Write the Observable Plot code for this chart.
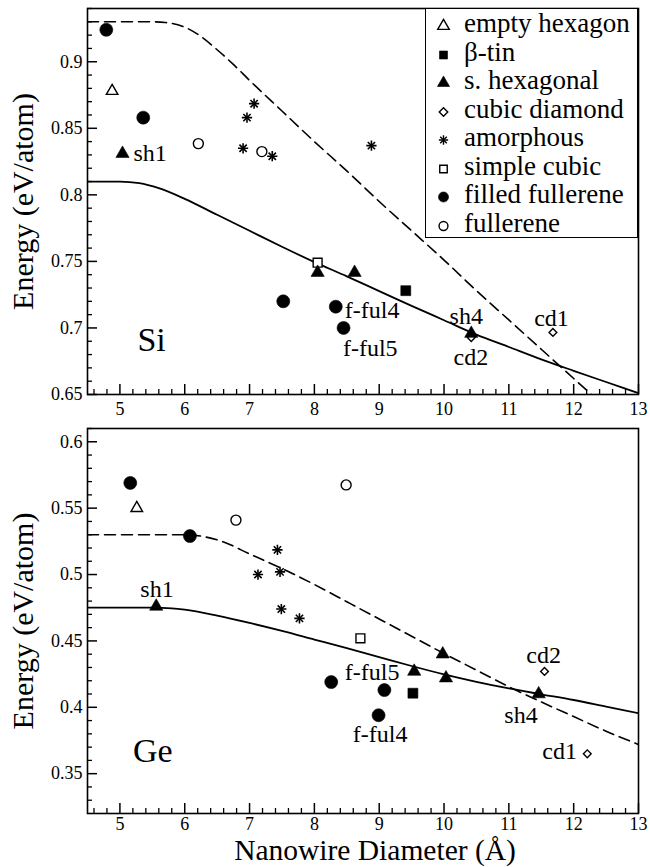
<!DOCTYPE html>
<html>
<head>
<meta charset="utf-8">
<script src="https://cdn.jsdelivr.net/npm/d3@7"></script>
<script src="https://cdn.jsdelivr.net/npm/@observablehq/plot@0.6"></script>
<style>
  body { margin: 0; background: #fff; }
  #wrap { position: relative; width: 650px; height: 867px; }
  #wrap, #wrap *, #wrap svg text, #wrap span { font-family: "Liberation Serif", serif !important; }
  #wrap svg.plot { display: block; }
  .legend { position: absolute; left: 425px; top: 8px; width: 213px; height: 230px; box-sizing: border-box;
            border: 1.5px solid #000; background: #fff; }
  .legend .row { height: 28.5px; display: flex; align-items: flex-start; }
  .legend .row svg { flex: none; }
  .legend .row span { font-size: 27px; line-height: 28px; color: #000; white-space: nowrap; }
</style>
</head>
<body>
<div id="wrap" style="font-family:'Liberation Serif', serif"></div>
<script>
// ---------------- data ----------------
const xTicks = [5, 6, 7, 8, 9, 10, 11, 12, 13];
const siYTicks = [0.65, 0.7, 0.75, 0.8, 0.85, 0.9];
const geYTicks = [0.35, 0.4, 0.45, 0.5, 0.55, 0.6];
const xTitle = "Nanowire Diameter (Å)";
const yTitle = "Energy (eV/atom)";

const structures = ["empty hexagon", "β-tin", "s. hexagonal", "cubic diamond",
                    "amorphous", "simple cubic", "filled fullerene", "fullerene"];

// Si points
const siStructure = ["filled fullerene", "empty hexagon", "filled fullerene", "s. hexagonal", "fullerene",
  "amorphous", "amorphous", "amorphous", "fullerene", "amorphous", "amorphous",
  "simple cubic", "s. hexagonal", "filled fullerene", "s. hexagonal", "β-tin",
  "filled fullerene", "filled fullerene", "s. hexagonal", "cubic diamond", "cubic diamond"];
const siDiameter = [4.79, 4.88, 5.36, 5.04, 6.21,
  7.07, 6.96, 6.90, 7.19, 7.35, 8.88,
  8.05, 8.05, 7.52, 8.62, 9.41,
  8.33, 8.45, 10.42, 10.42, 11.68];
const siEnergy = [0.924, 0.878, 0.858, 0.831, 0.8385,
  0.8685, 0.858, 0.835, 0.8325, 0.829, 0.837,
  0.749, 0.7416, 0.720, 0.7416, 0.728,
  0.716, 0.700, 0.6958, 0.6928, 0.6966];

// Ge points
const geStructure = ["filled fullerene", "empty hexagon", "fullerene", "filled fullerene", "s. hexagonal",
  "amorphous", "amorphous", "amorphous", "amorphous", "amorphous",
  "fullerene", "simple cubic", "filled fullerene", "filled fullerene", "filled fullerene",
  "s. hexagonal", "β-tin", "s. hexagonal", "s. hexagonal", "s. hexagonal",
  "cubic diamond", "cubic diamond"];
const geDiameter = [5.16, 5.26, 6.79, 6.08, 5.56,
  7.43, 7.13, 7.47, 7.49, 7.77,
  8.49, 8.71, 8.26, 9.08, 8.99,
  9.54, 9.52, 9.98, 10.03, 11.46,
  11.55, 12.21];
const geEnergy = [0.569, 0.550, 0.541, 0.529, 0.476,
  0.5186, 0.500, 0.502, 0.474, 0.467,
  0.5675, 0.452, 0.419, 0.413, 0.394,
  0.427, 0.4106, 0.440, 0.422, 0.410,
  0.427, 0.365];

// model curves
const siSolidX = [4.5, 5.0, 5.3, 5.6, 6.0, 6.5, 7.0, 7.5, 8.0, 8.5, 9.0, 9.5, 10.0, 10.5, 11.0, 11.5, 12.0, 12.5, 13.0];
const siSolidY = [0.81, 0.81, 0.8088, 0.805, 0.797, 0.785, 0.773, 0.761, 0.7495, 0.7388, 0.7277, 0.7166, 0.7058, 0.695, 0.6857, 0.6764, 0.6678, 0.6594, 0.651];
const siDashX = [4.5, 5.0, 5.5, 5.7, 6.0, 6.25, 6.5, 6.75, 7.0, 7.5, 8.0, 8.5, 9.0, 9.5, 10.0, 10.5, 11.0, 11.5, 12.0, 12.5];
const siDashY = [0.93, 0.93, 0.93, 0.9295, 0.926, 0.919, 0.909, 0.898, 0.886, 0.863, 0.840, 0.818, 0.795, 0.773, 0.751, 0.728, 0.706, 0.684, 0.662, 0.640];
const geSolidX = [4.5, 5.0, 5.5, 5.8, 6.0, 6.5, 7.0, 7.5, 8.0, 8.5, 9.0, 9.5, 10.0, 10.5, 11.0, 11.5, 12.0, 12.5, 13.0];
const geSolidY = [0.475, 0.475, 0.475, 0.4745, 0.4735, 0.469, 0.4635, 0.4575, 0.451, 0.4445, 0.4378, 0.4311, 0.4248, 0.4192, 0.4142, 0.4098, 0.4055, 0.4005, 0.3955];
const geDashX = [4.5, 5.0, 5.5, 6.0, 6.3, 6.6, 7.0, 7.5, 8.0, 8.5, 9.0, 9.5, 10.0, 10.5, 11.0, 11.5, 12.0, 12.5, 13.0];
const geDashY = [0.53, 0.53, 0.53, 0.53, 0.5285, 0.5245, 0.5155, 0.5045, 0.4925, 0.4795, 0.4665, 0.4535, 0.4405, 0.428, 0.4155, 0.404, 0.393, 0.382, 0.372];

// annotations (text, left edge x, baseline y in data units)
const siLabelText = ["sh1", "f-ful4", "f-ful5", "sh4", "cd2", "cd1"];
const siLabelX = [5.21, 8.47, 8.44, 10.085, 10.146, 11.39];
const siLabelY = [0.8257, 0.7071, 0.6793, 0.7033, 0.6718, 0.7018];
const geLabelText = ["sh1", "f-ful5", "f-ful4", "sh4", "cd2", "cd1"];
const geLabelX = [5.315, 8.469, 8.592, 10.93, 11.27, 11.515];
const geLabelY = [0.4834, 0.4202, 0.3735, 0.3885, 0.433, 0.3614];
const siTag = {text: "Si", x: 5.27, y: 0.683};
const geTag = {text: "Ge", x: 5.2, y: 0.3586};

// ---------------- styles ----------------
const markerStyle = {
  "fullerene":        {symbol: "circle",   fill: "white", r: 5.0},
  "filled fullerene": {symbol: "circle",   fill: "black", r: 6.5},
  "cubic diamond":    {symbol: "diamond2", fill: "white", r: 3.5},
  "simple cubic":     {symbol: "square",   fill: "white", r: 5.0},
  "s. hexagonal":     {symbol: "triangle", fill: "black", r: 4.9},
  "β-tin":            {symbol: "square",   fill: "black", r: 5.6},
  "empty hexagon":    {symbol: "triangle", fill: "white", r: 4.3},
  "amorphous":        {symbol: "star8",    fill: "none",  r: 3.4}
};
const legendSymbol = {
  "empty hexagon":    {type: d3.symbolTriangle, size: 58, fill: "white"},
  "β-tin":            {type: d3.symbolSquare,   size: 64, fill: "black"},
  "s. hexagonal":     {type: d3.symbolTriangle, size: 64, fill: "black"},
  "cubic diamond":    {type: d3.symbolDiamond2, size: 46, fill: "white"},
  "amorphous":        {type: "star8",           size: 30, fill: "none"},
  "simple cubic":     {type: d3.symbolSquare,   size: 56, fill: "white"},
  "filled fullerene": {type: d3.symbolCircle,   size: 80, fill: "black"},
  "fullerene":        {type: d3.symbolCircle,   size: 62, fill: "white"}
};

const FONT = "Liberation Serif";
const W = 650, ML = 87, MR = 12;
const xDomain = [4.5, 13];

function rows(s, d, e) { return s.map((k, i) => ({structure: k, d: d[i], e: e[i]})); }
function curve(xs, ys) { return xs.map((x, i) => ({x, y: ys[i]})); }
function labs(t, xs, ys) { return t.map((k, i) => ({text: k, x: xs[i], y: ys[i]})); }

function pointMarks(data) {
  const marks = [];
  for (const [name, st] of Object.entries(markerStyle)) {
    const sub = data.filter(p => p.structure === name);
    if (st.symbol === "star8") {
      marks.push(Plot.dot(sub, {x: "d", y: "e", symbol: "plus", r: st.r, stroke: "black", strokeWidth: 1.6}));
      marks.push(Plot.dot(sub, {x: "d", y: "e", symbol: "times", r: st.r, stroke: "black", strokeWidth: 1.6}));
    } else {
      marks.push(Plot.dot(sub, {x: "d", y: "e", symbol: st.symbol, r: st.r, fill: st.fill,
        stroke: "black", strokeWidth: st.fill === "black" ? 0.6 : 1.4}));
    }
  }
  return marks;
}

function minorTicks(lo, hi, step, majorStep) {
  return d3.range(Math.round((hi - lo) / step) + 1).map(i => +(lo + i * step).toFixed(4))
    .filter(v => Math.abs(v / majorStep - Math.round(v / majorStep)) > 1e-6);
}

function panel({height, marginTop, marginBottom, yDomain, yTicks, yMinorLo, points, solid, dashed, labels, tag, withXTitle, xPad}) {
  const innerH = height - marginTop - marginBottom;
  const innerW = W - ML - MR;
  const xMinor = minorTicks(4.6, 12.8, 0.2, 1);
  const yMinor = minorTicks(yMinorLo, yDomain[1], 0.01, 0.05);
  const marks = [
    Plot.line(curve(dashed[0], dashed[1]), {x: "x", y: "y", stroke: "black", strokeWidth: 1.6, strokeDasharray: "11,6", curve: "monotone-x", clip: true}),
    Plot.line(curve(solid[0], solid[1]), {x: "x", y: "y", stroke: "black", strokeWidth: 1.8, curve: "monotone-x", clip: true}),
    ...pointMarks(points),
    Plot.text(labels, {x: "x", y: "y", text: "text", textAnchor: "start", lineAnchor: "bottom", fontSize: 24, fontFamily: FONT, fill: "black"}),
    Plot.text([tag], {x: "x", y: "y", text: "text", textAnchor: "start", lineAnchor: "bottom", fontSize: 34, fontFamily: FONT, fill: "black"}),
    // inward ticks
    Plot.ruleX(xTicks, {insetTop: innerH - 10, stroke: "black", strokeWidth: 1.5}),
    Plot.ruleX(xMinor, {insetTop: innerH - 5, stroke: "black", strokeWidth: 1.3}),
    Plot.ruleY(yTicks, {insetRight: innerW - 10, stroke: "black", strokeWidth: 1.5}),
    Plot.ruleY(yMinor, {insetRight: innerW - 5, stroke: "black", strokeWidth: 1.3}),
    Plot.frame({stroke: "black", strokeWidth: 1.6}),
    Plot.axisX(xTicks, {tickSize: 0, tickPadding: xPad, fontSize: 18, fontFamily: FONT, label: null}),
    Plot.axisY(yTicks, {tickSize: 0, tickPadding: 5, fontSize: 18, fontFamily: FONT, label: null, tickFormat: v => String(v)}),
    Plot.text([yTitle], {text: d => d, frameAnchor: "left", textAnchor: "middle", lineAnchor: "middle", rotate: -90, dx: -64, fontSize: 30, fontFamily: FONT, fill: "black"})
  ];
  if (withXTitle) {
    marks.push(Plot.text([xTitle], {text: d => d, frameAnchor: "bottom", textAnchor: "middle", lineAnchor: "bottom", dy: 46, dx: 12, fontSize: 29.5, fontFamily: FONT, fill: "black"}));
  }
  return Plot.plot({
    width: W, height, marginLeft: ML, marginRight: MR, marginTop, marginBottom,
    x: {domain: xDomain},
    y: {domain: yDomain},
    style: {fontFamily: FONT, color: "black", background: "white", overflow: "visible"},
    marks
  });
}

const wrap = document.getElementById("wrap");
wrap.appendChild(panel({
  height: 420, marginTop: 8, marginBottom: 26,
  yDomain: [0.65, 0.94], yTicks: siYTicks, yMinorLo: 0.66,
  points: rows(siStructure, siDiameter, siEnergy),
  solid: [siSolidX, siSolidY], dashed: [siDashX, siDashY],
  labels: labs(siLabelText, siLabelX, siLabelY), tag: siTag, withXTitle: false, xPad: 8
}));
wrap.appendChild(panel({
  height: 447, marginTop: 8, marginBottom: 54,
  yDomain: [0.32, 0.61], yTicks: geYTicks, yMinorLo: 0.33,
  points: rows(geStructure, geDiameter, geEnergy),
  solid: [geSolidX, geSolidY], dashed: [geDashX, geDashY],
  labels: labs(geLabelText, geLabelX, geLabelY), tag: geTag, withXTitle: true, xPad: 4
}));

// legend (Si panel)
const legend = d3.select(wrap).append("div").attr("class", "legend");
for (const name of structures) {
  const st = legendSymbol[name];
  const row = legend.append("div").attr("class", "row");
  const svg = row.append("svg").attr("width", 38).attr("height", 28);
  const g = svg.append("g").attr("transform", "translate(17.5,17)");
  if (st.type === "star8") {
    g.append("path").attr("d", d3.symbol(d3.symbolPlus, st.size)()).attr("fill", "none").attr("stroke", "black").attr("stroke-width", 1.4);
    g.append("path").attr("d", d3.symbol(d3.symbolTimes, st.size)()).attr("fill", "none").attr("stroke", "black").attr("stroke-width", 1.4);
  } else {
    g.append("path").attr("d", d3.symbol(st.type, st.size)()).attr("fill", st.fill).attr("stroke", "black").attr("stroke-width", st.fill === "black" ? 0.6 : 1.4);
  }
  row.append("span").text(name);
}
</script>
</body>
</html>
